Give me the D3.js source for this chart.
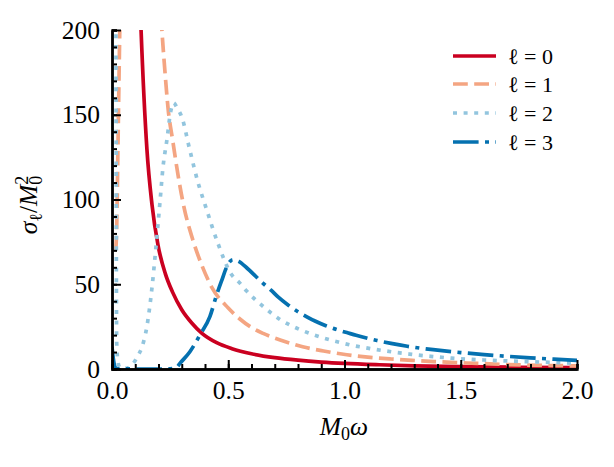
<!DOCTYPE html>
<html><head><meta charset="utf-8">
<script src="https://cdn.jsdelivr.net/npm/d3@7"></script>
<style>body{margin:0;background:#fff}svg{display:block}</style>
</head><body>
<svg id="c" width="614" height="467" font-family="Liberation Serif"></svg>
<script>
// ---- data ----
const seriesLabels = ["ℓ = 0", "ℓ = 1", "ℓ = 2", "ℓ = 3"];
const xTicks = [0.0, 0.5, 1.0, 1.5, 2.0];
const yTicks = [0, 50, 100, 150, 200];

const omega0 = [0.11, 0.125, 0.15, 0.172, 0.198, 0.23, 0.26, 0.30, 0.344, 0.387, 0.45, 0.516, 0.6, 0.7, 0.8, 0.9, 1.0, 1.15, 1.3, 1.5, 1.75, 2.0];
const sigma0 = [260, 200, 130, 97, 73, 56, 45.5, 35, 27, 21, 15.5, 12, 9, 6.7, 5.2, 4.1, 3.3, 2.5, 1.9, 1.4, 1.0, 0.8];

const omega1 = [0.016, 0.02, 0.025, 0.03, 0.034, 0.04, 0.19, 0.215, 0.228, 0.241, 0.262, 0.284, 0.305, 0.348, 0.387, 0.43, 0.5, 0.55, 0.6, 0.65, 0.73, 0.82, 0.91, 1.01, 1.1, 1.2, 1.29, 1.385, 1.475, 1.57, 1.665, 1.76, 1.86, 1.96, 2.0];
const sigma1 = [70, 82, 125, 170, 205, 260, 260, 199, 175, 154, 134, 114.5, 98.5, 76, 61, 48, 36, 29.5, 24.5, 21, 16.8, 13.1, 10.6, 8.4, 7.0, 5.9, 5.1, 4.4, 3.8, 3.3, 2.8, 2.4, 2.1, 1.9, 1.8];

const omega2 = [0.016, 0.017, 0.018, 0.019, 0.02, 0.026, 0.034, 0.05, 0.07, 0.086, 0.112, 0.129, 0.15, 0.172, 0.185, 0.206, 0.219, 0.237, 0.25, 0.265, 0.28, 0.30, 0.335, 0.37, 0.40, 0.456, 0.508, 0.551, 0.579, 0.615, 0.651, 0.687, 0.723, 0.766, 0.809, 0.852, 0.895, 0.945, 0.988, 1.038, 1.088, 1.131, 1.174, 1.225, 1.267, 1.317, 1.37, 1.46, 1.6, 1.75, 1.89, 2.0];
const sigma2 = [260, 200, 120, 50, 16, 4, 0.8, 0.3, 0.8, 2.4, 8, 13, 25, 48, 66, 98, 118.6, 136, 150, 157, 154, 148.7, 129, 110, 97, 74, 57, 50.5, 46, 41.1, 36.8, 32.8, 29.2, 25.9, 23.2, 20.9, 18.9, 16.9, 15.4, 13.8, 12.6, 11.6, 10.7, 9.7, 9.0, 8.2, 7.5, 6.4, 5.3, 4.5, 3.9, 3.4];

const omega3 = [0.0, 0.004, 0.008, 0.012, 0.02, 0.1, 0.2, 0.25, 0.278, 0.292, 0.335, 0.378, 0.421, 0.45, 0.47, 0.5, 0.52, 0.545, 0.585, 0.65, 0.684, 0.714, 0.76, 0.8, 0.838, 0.873, 0.92, 0.972, 1.01, 1.05, 1.1, 1.14, 1.2, 1.27, 1.35, 1.42, 1.5, 1.6, 1.7, 1.8, 1.9, 2.0];
const sigma3 = [13, 8, 4, 1.5, 0.2, 0, 0, 0.1, 1, 3.3, 10.2, 20, 30.9, 43.7, 51.5, 62, 64.5, 63.5, 59, 50.5, 46.5, 42.5, 37.5, 33.8, 30.8, 28.3, 25.5, 23, 21.5, 19.9, 18.1, 16.8, 15.1, 13.4, 11.9, 10.8, 9.7, 8.5, 7.5, 6.6, 5.8, 5.1];

const colors = ["#ca0020", "#f4a582", "#92c5de", "#0571b0"];
const dashes = [null, "14.8,6.4", "4,6.6", "25.6,6.4,4,6.4"];

// ---- chart ----
const FONT = "Liberation Serif";
const svg = d3.select("#c");
const L = 112, R = 577, T = 30, B = 369;
const x = d3.scaleLinear().domain([0, 2]).range([L, R]);
const y = d3.scaleLinear().domain([0, 200]).range([B, T]);

svg.append("defs").append("clipPath").attr("id", "clip")
  .append("rect").attr("x", L).attr("y", T).attr("width", R - L).attr("height", B - T);

const series = [[omega0, sigma0], [omega1, sigma1], [omega2, sigma2], [omega3, sigma3]];
const line = d3.line().x(d => x(d[0])).y(d => y(d[1])).curve(d3.curveMonotoneX);
const g = svg.append("g").attr("clip-path", "url(#clip)");
series.forEach((s, i) => {
  const pts = s[0].map((w, k) => [w, s[1][k]]);
  g.append("path").datum(pts).attr("d", line)
    .attr("fill", "none").attr("stroke", colors[i]).attr("stroke-width", 3.7)
    .attr("stroke-dasharray", dashes[i]);
});

// axes
const xMinor = d3.range(0, 2.0001, 0.1).map(v => +v.toFixed(2));
const yMinor = d3.range(0, 200.001, 10);
const ax = svg.append("g").attr("transform", `translate(0,${B})`);
ax.call(d3.axisBottom(x).tickValues(xMinor).tickSize(-5).tickFormat(""));
ax.append("g").call(d3.axisBottom(x).tickValues(xTicks).tickSizeInner(-9).tickSizeOuter(0).tickPadding(12).tickFormat(d3.format(".1f")));
const ay = svg.append("g").attr("transform", `translate(${L},0)`);
ay.call(d3.axisLeft(y).tickValues(yMinor).tickSize(-5).tickFormat(""));
ay.append("g").call(d3.axisLeft(y).tickValues(yTicks).tickSizeInner(-9).tickSizeOuter(0).tickPadding(12).tickFormat(d3.format("d")));
svg.selectAll("g[font-family]").attr("font-family", FONT);
svg.selectAll(".domain").attr("stroke", "#000").attr("stroke-width", 2.4);
svg.selectAll(".tick line").attr("stroke", "#000").attr("stroke-width", 2);
svg.selectAll(".tick text").attr("font-family", FONT).attr("font-size", 25.5).attr("fill", "#000");

// axis labels
const xl = svg.append("text").attr("x", 344).attr("y", 435).attr("text-anchor", "middle")
  .attr("font-family", FONT).attr("font-size", 25.5);
xl.append("tspan").attr("font-style", "italic").text("M");
xl.append("tspan").attr("font-size", 18).attr("dy", 5).text("0");
xl.append("tspan").attr("font-style", "italic").attr("dy", -5).text("ω");

const yl = svg.append("text").attr("transform", "translate(37,205) rotate(-90)")
  .attr("text-anchor", "middle").attr("font-family", FONT).attr("font-size", 25.5);
yl.append("tspan").attr("font-style", "italic").text("σ");
yl.append("tspan").attr("font-size", 18).attr("dy", 5).text("ℓ");
yl.append("tspan").attr("dy", -5).text("/");
yl.append("tspan").attr("font-style", "italic").text("M");
yl.append("tspan").attr("font-size", 18).attr("dy", 5).text("0");
yl.append("tspan").attr("font-size", 18).attr("dx", -9).attr("dy", -14).text("2");

// legend
const legY = [56, 84, 113, 142];
const leg = svg.append("g");
seriesLabels.forEach((lab, i) => {
  leg.append("line").attr("x1", 453).attr("x2", 496).attr("y1", legY[i]).attr("y2", legY[i])
    .attr("stroke", colors[i]).attr("stroke-width", 3.7).attr("stroke-dasharray", dashes[i]);
  leg.append("text").attr("x", 508).attr("y", legY[i] + 7.5)
    .attr("font-family", FONT).attr("font-size", 22).attr("xml:space", "preserve").text(lab);
});
</script>
</body></html>
